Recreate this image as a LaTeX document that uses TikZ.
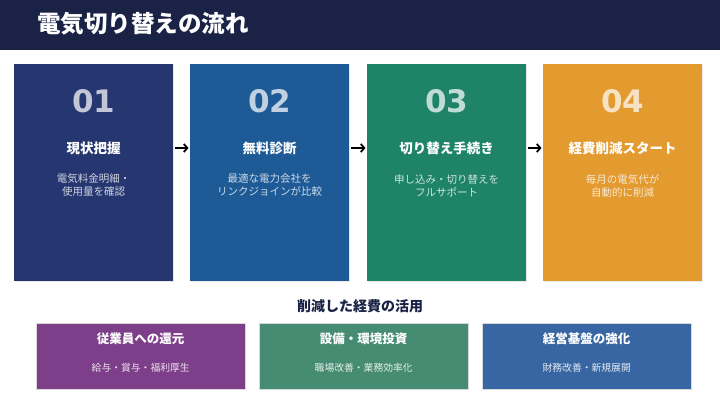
\documentclass[tikz,border=0pt]{standalone}
\usepackage{fontspec}
\setmainfont{Noto Sans CJK JP}
\newfontfamily\numfont{DejaVu Sans}
\usetikzlibrary{shadows,arrows.meta}
\definecolor{navybar}{HTML}{1A2346}
\definecolor{cA}{HTML}{253670}
\definecolor{cB}{HTML}{1E5A96}
\definecolor{cC}{HTML}{1F836A}
\definecolor{cD}{HTML}{E39A2E}
\definecolor{cE}{HTML}{7E3F8A}
\definecolor{cF}{HTML}{458C72}
\definecolor{cG}{HTML}{3866A3}
\definecolor{headtxt}{HTML}{1A2346}
\begin{document}
\begin{tikzpicture}[x=1pt,y=-1pt,
  stepbox/.style={rectangle, anchor=north west, minimum width=159pt, minimum height=217pt, inner sep=0pt,
     drop shadow={opacity=0.18, shadow xshift=0.8pt, shadow yshift=-1.2pt}},
  usebox/.style={rectangle, anchor=north west, minimum width=209pt, minimum height=66pt, inner sep=0pt, draw=white!70!gray, line width=0.4pt},
  numtxt/.style={text=white, text opacity=0.72, font=\numfont\bfseries\fontsize{31}{34}\selectfont, inner sep=0pt},
  headtxt/.style={text=white, font=\bfseries\fontsize{13.5}{15}\selectfont, inner sep=0pt},
  desctxt/.style={text=white, text opacity=0.78, font=\fontsize{10.5}{13}\selectfont, align=center, inner sep=0pt},
  usetitle/.style={text=white, font=\bfseries\fontsize{12.5}{14}\selectfont, inner sep=0pt},
  usesub/.style={text=white, text opacity=0.85, font=\fontsize{9.8}{11}\selectfont, inner sep=0pt},
  flow/.style={-{Straight Barb[length=3.5pt,width=8pt,line width=1.8pt]}, line width=1.8pt, black, shorten <=1.5pt, shorten >=1.5pt}
]
\useasboundingbox (0,0) rectangle (720,405);
\fill[white] (0,0) rectangle (720,405);
% title bar
\fill[navybar] (0,0) rectangle (720,50);
\node[anchor=west, text=white, font=\bfseries\fontsize{23.5}{25}\selectfont, inner sep=0pt] (title) at (37,24) {電気切り替えの流れ};

% step boxes
\node[stepbox, fill=cA] (b1) at (14,64) {};
\node[stepbox, fill=cB] (b2) at (190,64) {};
\node[stepbox, fill=cC] (b3) at (367,64) {};
\node[stepbox, fill=cD] (b4) at (543,64) {};

\foreach \b/\n/\h/\d in {b1/01/現状把握/{電気料金明細・\\使用量を確認},
                        b2/02/無料診断/{最適な電力会社を\\リンクジョインが比較},
                        b3/03/切り替え手続き/{申し込み・切り替えを\\フルサポート},
                        b4/04/経費削減スタート/{毎月の電気代が\\自動的に削減}}{
  \node[numtxt] (n\b) at (\b.north |- 0,101) {\n};
  \node[headtxt] (h\b) at (\b.north |- 0,148) {\h};
  \node[desctxt] (d\b) at (\b.north |- 0,185.5) {\d};
}

\draw[flow] (hb1 -| b1.east) -- (hb2 -| b2.west);
\draw[flow] (hb2 -| b2.east) -- (hb3 -| b3.west);
\draw[flow] (hb3 -| b3.east) -- (hb4 -| b4.west);

% usage section
\node[text=headtxt, font=\bfseries\fontsize{14}{16}\selectfont, inner sep=0pt] (usehead) at (360,306) {削減した経費の活用};

\node[usebox, fill=cE] (u1) at (36,323) {};
\node[usebox, fill=cF] (u2) at (259,323) {};
\node[usebox, fill=cG] (u3) at (482,323) {};

\foreach \u/\t/\s in {u1/従業員への還元/給与・賞与・福利厚生,
                     u2/設備・環境投資/職場改善・業務効率化,
                     u3/経営基盤の強化/財務改善・新規展開}{
  \node[usetitle] (t\u) at (\u.north |- 0,339) {\t};
  \node[usesub] (s\u) at (\u.north |- 0,368) {\s};
}
\end{tikzpicture}
\end{document}
